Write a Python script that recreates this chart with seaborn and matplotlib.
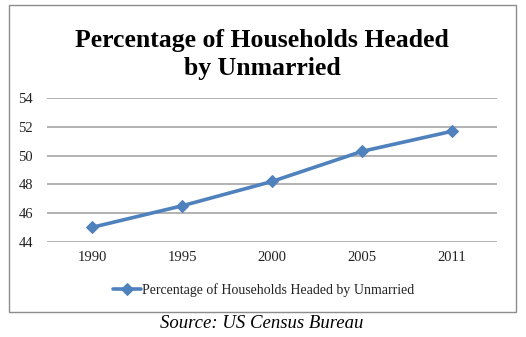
import matplotlib
matplotlib.use("Agg")
import matplotlib.pyplot as plt
import seaborn as sns
import pandas as pd
from matplotlib.patches import Rectangle

years = ["1990", "1995", "2000", "2005", "2011"]
values = [45.0, 46.5, 48.2, 50.3, 51.7]
series_name = "Percentage of Households Headed by Unmarried"
yticks = [44, 46, 48, 50, 52, 54]

sns.set_style("white")
plt.rcParams['font.family'] = ['Liberation Serif', 'DejaVu Serif']

W, H = 526, 337
fig = plt.figure(figsize=(W / 100, H / 100), dpi=100)

# outer border
fig.patches.append(Rectangle((9 / W, 1 - 311.7 / H), (515.7 - 9) / W, (311.7 - 5) / H,
                             transform=fig.transFigure, fill=False,
                             edgecolor="#8c8c8c", linewidth=1.0))

ax = fig.add_axes([47 / W, 1 - 241.7 / H, (497 - 47) / W, (241.7 - 98.3) / H])
df = pd.DataFrame({"Year": years, "Value": values})
sns.lineplot(data=df, x="Year", y="Value", ax=ax, color="#4F81BD", linewidth=2.6,
             marker="D", markersize=6, markeredgecolor="#4F81BD", label=series_name,
             legend=False)
ax.set_xlim(-0.5, len(years) - 0.5)
ax.set_ylim(44, 54)
ax.set_yticks(yticks)
ax.set_yticklabels([str(t) for t in yticks])
for s in ax.spines.values():
    s.set_visible(False)
ax.grid(axis="y", color="#a6a6a6", linewidth=1.2)
ax.set_axisbelow(True)
ax.tick_params(axis="both", length=0, labelsize=10.5, colors="#222222")
ax.tick_params(axis="y", pad=10)
ax.tick_params(axis="x", pad=7)
ax.set_xlabel("")
ax.set_ylabel("")

fig.text(262 / W, 1 - 54.5 / H, "Percentage of Households Headed\nby Unmarried",
         ha="center", va="center", fontsize=18.5, fontweight="bold", linespacing=1.3,
         color="black")

handles, labels = ax.get_legend_handles_labels()
fig.legend(handles, labels, loc="center", bbox_to_anchor=(264 / W, 1 - 290 / H),
           frameon=False, handlelength=2.0, handletextpad=0.1,
           labelcolor="#222222",
           prop={'family': 'Liberation Serif', 'size': 10})

fig.text(262 / W, 1 - 323 / H, "Source: US Census Bureau", ha="center", va="center",
         fontsize=13.5, fontstyle="italic", color="black")

fig.savefig("out.png", dpi=100)
